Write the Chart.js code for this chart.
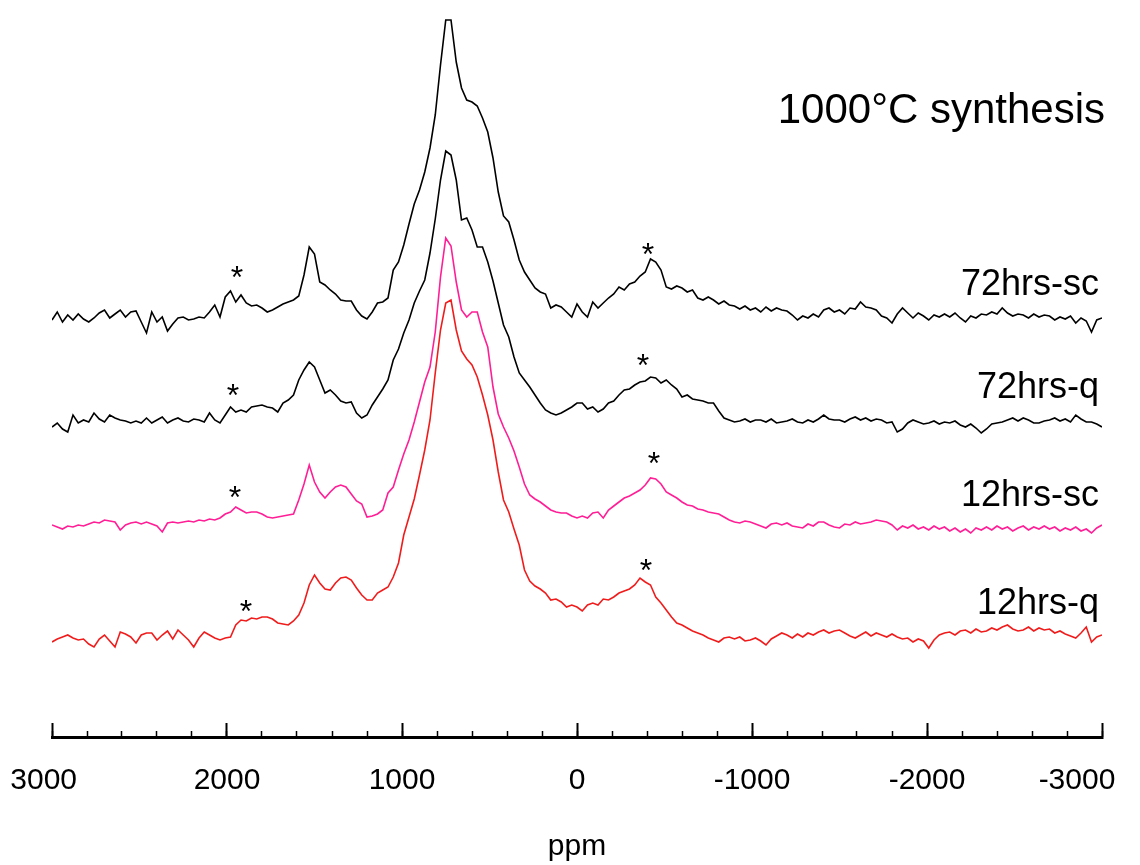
<!DOCTYPE html>
<html>
<head>
<meta charset="utf-8">
<script src="https://cdn.jsdelivr.net/npm/chart.js@4.4.0/dist/chart.umd.min.js"></script>
<style>
html,body{margin:0;padding:0;background:#fff;}
#wrap{width:1140px;height:865px;}
</style>
</head>
<body>
<div id="wrap"><canvas id="chart" width="1140" height="865"></canvas></div>
<script>
// chemical shift grid (ppm), 30 ppm apart
const ppm=[3000,2970,2940,2910,2880,2850,2820,2790,2760,2730,
2700,2670,2640,2610,2580,2550,2520,2490,2460,2430,
2400,2370,2340,2310,2280,2250,2220,2190,2160,2130,
2100,2070,2040,2010,1980,1950,1920,1890,1860,1830,
1800,1770,1740,1710,1680,1650,1620,1590,1560,1530,
1500,1470,1440,1410,1380,1350,1320,1290,1260,1230,
1200,1170,1140,1110,1080,1050,1020,990,960,930,
900,870,840,810,780,750,720,690,660,630,
600,570,540,510,480,450,420,390,360,330,
300,270,240,210,180,150,120,90,60,30,
0,-30,-60,-90,-120,-150,-180,-210,-240,-270,
-300,-330,-360,-390,-420,-450,-480,-510,-540,-570,
-600,-630,-660,-690,-720,-750,-780,-810,-840,-870,
-900,-930,-960,-990,-1020,-1050,-1080,-1110,-1140,-1170,
-1200,-1230,-1260,-1290,-1320,-1350,-1380,-1410,-1440,-1470,
-1500,-1530,-1560,-1590,-1620,-1650,-1680,-1710,-1740,-1770,
-1800,-1830,-1860,-1890,-1920,-1950,-1980,-2010,-2040,-2070,
-2100,-2130,-2160,-2190,-2220,-2250,-2280,-2310,-2340,-2370,
-2400,-2430,-2460,-2490,-2520,-2550,-2580,-2610,-2640,-2670,
-2700,-2730,-2760,-2790,-2820,-2850,-2880,-2910,-2940,-2970,
-3000];

const names=["72hrs-sc","72hrs-q","12hrs-sc","12hrs-q"];

// intensities, relative to each trace's own baseline
const hrs72sc=[0,8,-2,5,0,6,1,-2,2,7,
10,2,6,10,3,8,9,-2,-13,8,
-2,3,-11,-4,2,3,0,1,3,2,
8,15,3,23,29,18,25,17,14,15,
12,8,10,13,16,18,20,24,45,73,
66,38,35,30,26,20,19,19,10,4,
1,8,17,18,22,50,58,75,96,116,
130,148,172,205,255,300,300,258,232,220,
218,214,202,188,162,128,104,98,80,60,
48,40,32,28,26,12,15,13,8,3,
16,8,3,18,12,17,22,26,33,30,
36,38,44,48,61,58,50,33,31,34,
32,28,30,22,20,23,20,16,19,15,
14,11,14,10,12,8,13,9,12,10,
9,5,0,4,2,6,3,10,12,8,
10,6,12,11,18,13,12,10,4,2,
-3,6,12,7,2,7,4,0,5,3,
6,3,7,2,-2,4,2,6,5,8,
6,12,7,4,6,5,2,6,3,5,
4,0,3,1,4,-3,2,-1,-12,0,
2];

const hrs72q=[-2,2,-4,-7,10,2,5,3,12,6,
3,10,7,5,4,2,4,2,7,2,
5,8,2,5,7,4,3,6,5,3,
12,5,2,10,18,13,15,13,18,19,
20,18,17,13,22,25,30,45,55,63,
58,45,32,35,30,24,22,23,12,7,
10,20,28,36,45,65,76,92,105,122,
134,145,172,206,245,274,270,245,205,207,
195,178,178,163,144,122,100,88,68,52,
45,38,30,22,15,12,10,12,15,18,
22,22,16,18,13,16,22,24,30,35,
36,40,43,44,48,47,42,45,40,36,
28,30,26,25,24,22,22,14,7,5,
3,4,6,3,5,5,3,6,2,3,
4,6,3,2,5,3,6,10,6,5,
5,3,6,8,5,7,4,6,5,2,
3,-7,-4,2,5,3,1,2,4,1,
3,2,4,0,-2,1,-3,-8,-4,1,
2,3,5,7,4,7,5,2,2,4,
5,7,4,6,3,10,6,3,3,1,
-2];

const hrs12sc=[-3,-5,-7,-4,-5,-3,-4,-2,0,-1,
2,1,0,-8,-3,-1,0,-2,0,-2,
-4,-10,-1,0,-1,0,1,0,2,1,
3,2,4,8,10,15,12,9,10,10,
8,5,4,5,6,7,8,22,38,57,
40,30,24,30,35,37,35,28,21,18,
5,6,8,12,29,35,52,68,82,100,
120,140,155,190,245,284,276,240,212,205,
210,210,190,175,135,108,95,84,71,55,
38,27,23,20,16,12,10,9,9,6,
4,6,4,9,10,4,12,16,20,24,
26,29,32,37,44,43,38,30,27,24,
20,17,16,13,12,10,9,8,5,2,
0,-1,1,0,-2,-4,-6,-2,-1,-3,
-1,-4,-5,-6,-2,-4,0,0,-3,-5,
-6,-2,-3,0,-2,-1,0,2,1,0,
-3,-8,-4,-6,-3,-7,-5,-8,-4,-7,
-5,-9,-6,-10,-7,-11,-6,-8,-5,-8,
-4,-7,-5,-9,-6,-4,-8,-5,-7,-4,
-7,-5,-9,-6,-8,-5,-9,-7,-11,-6,
-3];

const hrs12q=[-7,-4,-2,0,-3,-5,-4,-9,-12,-4,
0,-6,-12,3,1,-2,-8,0,2,2,
-5,0,4,-4,5,0,-5,-12,-3,3,
0,-3,-5,-3,-2,10,15,14,17,16,
18,18,16,12,11,10,14,20,32,50,
60,52,46,45,52,57,58,55,47,40,
35,35,42,45,48,58,72,100,118,136,
160,185,215,262,305,332,335,305,284,276,
270,258,240,220,195,163,135,123,106,90,
65,54,49,46,42,35,36,33,28,30,
28,24,30,32,30,36,35,38,42,44,
46,50,57,53,50,38,32,25,18,12,
10,7,4,2,0,-3,-5,-7,-3,-2,
-4,-2,-6,-5,-3,-6,-10,-4,-1,2,
0,-3,1,-2,2,0,3,5,2,4,
5,2,-1,-3,0,3,-1,2,0,-2,
1,-2,-4,-3,-7,-4,-6,-13,-5,0,
2,3,0,4,5,2,6,3,4,7,
5,8,10,6,4,5,8,4,7,5,
6,2,4,1,-1,-3,2,8,-7,-2,
0];

const seriesVals=[hrs72sc,hrs72q,hrs12sc,hrs12q];
const offsets=[417,312,215,102];   // stacking offsets of the traces
const majorTicks=[3000,2000,1000,0,-1000,-2000,-3000];

const FONT="'Liberation Sans', Arial, sans-serif";
const colors=["#000000","#000000","#ff1e96","#f01c1c"];

// sample names, title and the asterisks, placed in data units
const textMarks={
  id:"marks",
  afterDatasetsDraw(chart,args,opts){
    const ctx=chart.ctx, xs=chart.scales.x, ys=chart.scales.y;
    ctx.save();
    ctx.fillStyle="#000";
    ctx.textBaseline="alphabetic";

    ctx.textAlign="right";
    ctx.font="42px "+FONT;
    ctx.fillText(opts.title, xs.getPixelForValue(opts.titleAt[0])+3, ys.getPixelForValue(opts.titleAt[1]));

    ctx.font="36px "+FONT;
    names.forEach((n,i)=>{
      ctx.fillText(n, xs.getPixelForValue(opts.nameX)-3, ys.getPixelForValue(opts.nameY[i]));
    });

    ctx.textAlign="center";
    ctx.font="32px "+FONT;
    opts.stars.forEach(s=>{
      ctx.fillText("*", xs.getPixelForValue(s[0]), ys.getPixelForValue(s[1])+18);
    });
    ctx.restore();
  }
};

// keep the axis from pushing the plot inwards for its end labels
const noSidePad=s=>{s.paddingLeft=0;s.paddingRight=0;};

// end labels sit a little inside their ticks in the original
const tickText=v=>{
  if(v===-3000) return String(v)+"      ";
  if(v===3000) return String(v)+"  ";
  return String(v);
};

new Chart("chart",{
  type:"line",
  data:{
    datasets:seriesVals.map((vals,k)=>({
      label:names[k],
      data:ppm.map((p,i)=>({x:p,y:offsets[k]+vals[i]})),
      borderColor:colors[k],
      borderWidth:1.6,
      fill:false,
      tension:0,
      pointRadius:0,
    })),
  },
  options:{
    responsive:false,
    animation:false,
    layout:{padding:{left:52,right:38,top:10,bottom:0}},
    plugins:{
      legend:{display:false},
      tooltip:{enabled:false},
      marks:{
        title:"1000°C synthesis",
        titleAt:[-3000,614],
        nameX:-3000,
        nameY:[442,339,231,123],
        stars:[[1943,467],[-406,490],[1966,349],[-377,379],[1954,247],[-440,281],[1891,133],[-394,174]],
      },
    },
    scales:{
      x:{
        type:"linear",
        position:"bottom",
        reverse:true,
        min:-3000,
        max:3000,
        weight:1,
        afterBuildTicks:s=>{s.ticks=majorTicks.map(v=>({value:v}));},
        afterFit:s=>{s.height=128;noSidePad(s);},
        border:{display:true,color:"#000",width:3},
        grid:{drawOnChartArea:false,drawTicks:true,tickLength:-14,tickColor:"#000",tickWidth:2},
        ticks:{color:"#000",font:{family:FONT,size:30},padding:40,autoSkip:false,maxRotation:0,
               callback:tickText},
        title:{display:true,text:"ppm",color:"#000",font:{family:FONT,size:30},padding:{top:0,bottom:0}},
      },
      x2:{
        type:"linear",
        position:"bottom",
        reverse:true,
        min:-3000,
        max:3000,
        weight:0,
        afterFit:s=>{s.height=0;noSidePad(s);},
        border:{display:false},
        grid:{drawOnChartArea:false,drawTicks:true,tickLength:-6,tickColor:"#000",tickWidth:1.5},
        ticks:{display:false,stepSize:200,autoSkip:false},
      },
      y:{
        display:false,
        min:0,
        max:727,
        afterFit:noSidePad,
      },
    },
  },
  plugins:[textMarks],
});
</script>
</body>
</html>
